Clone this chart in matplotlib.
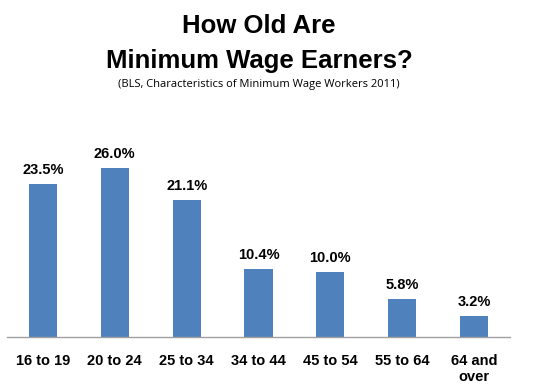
import matplotlib.pyplot as plt

ages = ["16 to 19", "20 to 24", "25 to 34", "34 to 44", "45 to 54", "55 to 64", "64 and\nover"]
shares = [23.5, 26.0, 21.1, 10.4, 10.0, 5.8, 3.2]
share_labels = ["23.5%", "26.0%", "21.1%", "10.4%", "10.0%", "5.8%", "3.2%"]

W, H = 557, 391
fig = plt.figure(figsize=(W / 100, H / 100), dpi=100)

# axes placed in pixel terms: x 7..510, baseline at y=337
left, right, base, top = 7, 510, 337, 120
ax = fig.add_axes([left / W, 1 - base / H, (right - left) / W, (base - top) / H])

pos = range(len(ages))
ax.bar(pos, shares, width=0.39, color="#4F81BD")
ax.set_xlim(-0.5, len(ages) - 0.5)
ax.set_ylim(0, (base - top) / 6.5)

for i, v in enumerate(shares):
    ax.annotate(share_labels[i], (i, v), xytext=(0, 5), textcoords="offset points",
                ha="center", va="bottom", fontsize=10.5, fontweight="bold",
                family="Liberation Sans")

ax.set_xticks(list(pos))
ax.set_xticklabels(ages, fontsize=10.5, fontweight="bold", family="Liberation Sans",
                   linespacing=1.25, va="top")
ax.tick_params(axis="x", length=0, pad=12)
ax.set_yticks([])
for s in ["top", "right", "left"]:
    ax.spines[s].set_visible(False)
ax.spines["bottom"].set_color("#A0A0A0")
ax.spines["bottom"].set_linewidth(1)

cx = 259 / W  # titles are centred over the plot, not the figure
fig.text(cx, 1 - 26 / H, "How Old Are", ha="center", va="center",
         fontsize=18.5, fontweight="bold", family="Liberation Sans")
fig.text(cx, 1 - 61 / H, "Minimum Wage Earners?", ha="center", va="center",
         fontsize=18.5, fontweight="bold", family="Liberation Sans")
fig.text(cx, 1 - 85 / H, "(BLS, Characteristics of Minimum Wage Workers 2011)",
         ha="center", va="center", fontsize=8, family="Open Sans")

fig.savefig("out.png", dpi=100)
